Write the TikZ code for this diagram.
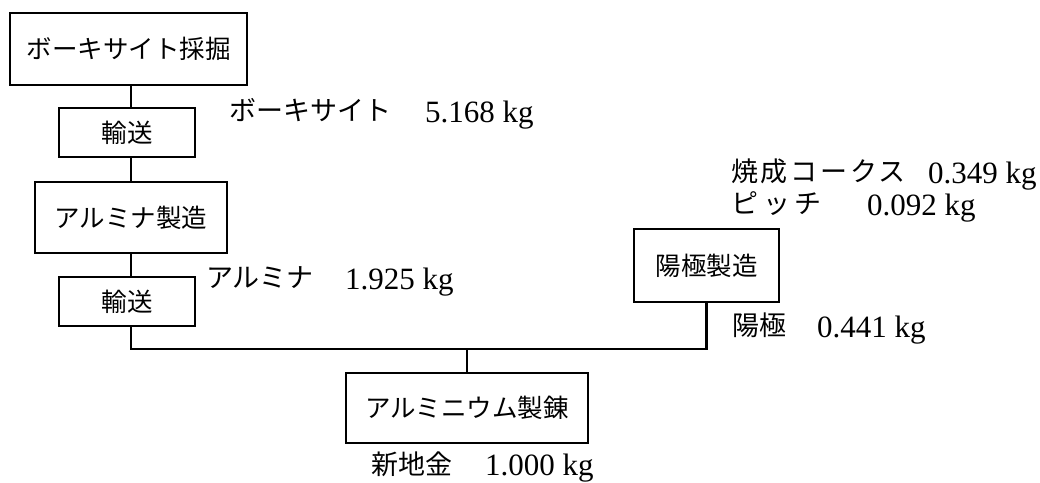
\documentclass[tikz,border=0pt]{standalone}
\usepackage{fontspec}
\newfontfamily\jp{Noto Sans CJK JP}
\newfontfamily\numf{Liberation Serif}
\tikzset{
  box/.style={draw, line width=2.8pt, inner sep=0pt, font=\jp\fontsize{25.5}{30}\selectfont},
  jlbl/.style={anchor=base west, inner sep=0pt, font=\jp\fontsize{27}{32}\selectfont},
  nlbl/.style={anchor=base west, inner sep=0pt, font=\numf\fontsize{31}{34}\selectfont},
  conn/.style={line width=2.8pt}
}
\begin{document}
\begin{tikzpicture}[x=1pt,y=-1pt]
\fill[white] (0,0) rectangle (1040,482);
\useasboundingbox (0,0) rectangle (1040,482);
% boxes
\node[box, minimum width=237pt, minimum height=72pt] (b1) at (128.5,49) {ボーキサイト採掘};
\node[box, minimum width=136pt, minimum height=49pt] (t1) at (127,132.5) {輸送};
\node[box, minimum width=192pt, minimum height=71pt] (b3) at (131,217.5) {アルミナ製造};
\node[box, minimum width=136pt, minimum height=49pt] (t2) at (127,301.5) {輸送};
\node[box, minimum width=145pt, minimum height=73pt] (an) at (706.5,265.5) {陽極製造};
\node[box, minimum width=242pt, minimum height=70pt] (al) at (467,408) {アルミニウム製錬};
% connector helpers
\coordinate (spine) at (131,0);
\coordinate (bus) at (0,349);
\draw[conn] (b1.south -| spine) -- (t1.north -| spine);
\draw[conn] (t1.south -| spine) -- (b3.north -| spine);
\draw[conn] (b3.south -| spine) -- (t2.north -| spine);
\draw[conn] (t2.south -| spine) -- (spine |- bus) -- (an.south |- bus) -- (an.south);
\draw[conn] (al.north) -- (al.north |- bus);
% labels
\node[jlbl] (l1j) at (229,120.5) {ボーキサイト};
\node[nlbl] (l1n) at (425,122) {5.168 kg};
\node[jlbl] (l2j) at (206,287.5) {アルミナ};
\node[nlbl] (l2n) at (345,289) {1.925 kg};
\node[jlbl] (l3j) at (371,474) {新地金};
\node[nlbl] (l3n) at (485,475) {1.000 kg};
\node[jlbl] (l4j) at (731,181.5) {\addfontfeature{LetterSpace=10}焼成コークス};
\node[nlbl] (l4n) at (928,183) {0.349 kg};
\node[jlbl] (l5j) at (731,213.5) {\addfontfeature{LetterSpace=18}ピッチ};
\node[nlbl] (l5n) at (867,215) {0.092 kg};
\node[jlbl] (l6j) at (732,335.5) {陽極};
\node[nlbl] (l6n) at (817,337) {0.441 kg};
\end{tikzpicture}
\end{document}
